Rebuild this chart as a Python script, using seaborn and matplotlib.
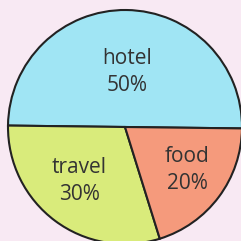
import seaborn as sns
import matplotlib.pyplot as plt

categories = ["hotel", "travel", "food"]
shares = [50, 30, 20]
colors = ["#a0e5f4", "#d9eb7b", "#f59a7c"]

# label anchor points in pie units (radius 1)
label_pos = [(0.02, 0.47), (-0.39, -0.46), (0.53, -0.37)]

sns.set_theme(style="white")
plt.rcParams["font.family"] = ["Open Sans", "DejaVu Sans"]

bg = "#f8e9f3"
fig = plt.figure(figsize=(2.41, 2.41), dpi=100, facecolor=bg)
ax = fig.add_axes([8 / 241, -3 / 241, 234 / 241, 234 / 241])
ax.set_facecolor(bg)

ax.pie(shares, colors=colors, startangle=-0.7, counterclock=True,
       wedgeprops=dict(edgecolor="#222222", linewidth=1.5))

for name, val, (x, y) in zip(categories, shares, label_pos):
    ax.text(x, y, f"{name}\n{val}%", ha="center", va="center",
            fontsize=15, color="#333333", linespacing=1.4)

ax.set_xlim(-1, 1)
ax.set_ylim(-1, 1)
ax.set_aspect("equal")
ax.axis("off")

fig.savefig("out.png", dpi=100, facecolor=bg)
